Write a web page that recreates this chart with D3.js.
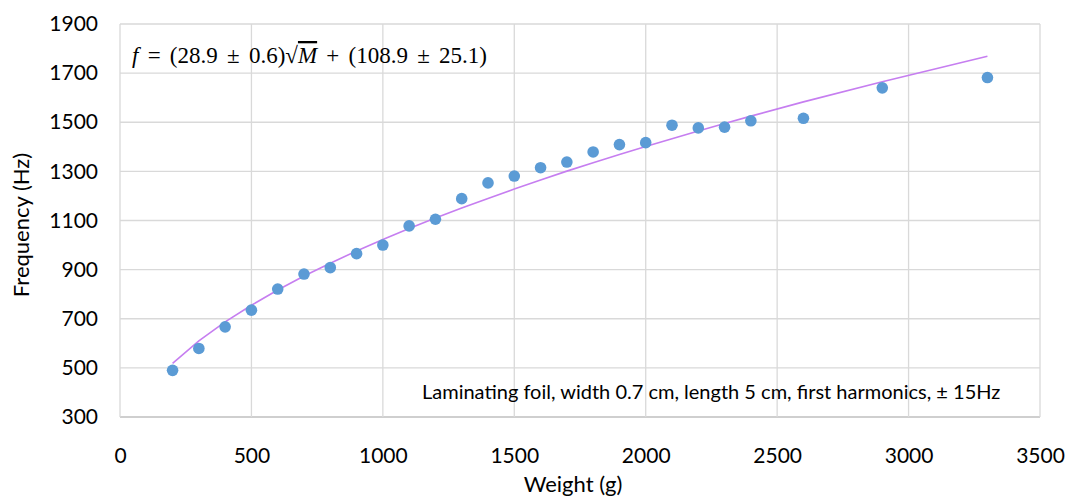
<!DOCTYPE html>
<html>
<head>
<meta charset="utf-8">
<script src="https://cdn.jsdelivr.net/npm/d3@7"></script>
<style>
  body { margin: 0; background: #fff; }
</style>
</head>
<body>
<div id="visualization"></div>
<script>
// Measured data: weight (g) and first-harmonic frequency (Hz)
const weights = [200, 300, 400, 500, 600, 700, 800, 900, 1000, 1100, 1200, 1300, 1400,
                 1500, 1600, 1700, 1800, 1900, 2000, 2100, 2200, 2300, 2400, 2600, 2900, 3300];
const frequencies = [490, 579, 667, 735, 821, 882, 908, 965, 1000, 1078, 1105, 1189, 1253,
                     1281, 1315, 1338, 1379, 1409, 1417, 1488, 1477, 1480, 1506, 1516, 1640, 1682];
// Fitted curve
const fitValues = [518, 610, 687, 755, 817, 874, 926, 976, 1023, 1067, 1110, 1151, 1190,
                   1228, 1265, 1301, 1335, 1369, 1401, 1433, 1464, 1495, 1525, 1583, 1665, 1769];
const xTicks = [0, 500, 1000, 1500, 2000, 2500, 3000, 3500];
const yTicks = [300, 500, 700, 900, 1100, 1300, 1500, 1700, 1900];

const margin = {top: 24, right: 29, bottom: 82, left: 120};
const width = 1069 - margin.left - margin.right;
const height = 499 - margin.top - margin.bottom;
const sans = 'Lato, "Open Sans", sans-serif';

const x = d3.scaleLinear().domain([0, 3500]).range([0, width]);
const y = d3.scaleLinear().domain([300, 1900]).range([height, 0]);

const svg = d3.select('#visualization')
    .append('svg')
    .attr('width', 1069)
    .attr('height', 499)
    .append('g')
    .attr('transform', `translate(${margin.left},${margin.top})`);

// Grid lines
svg.append('g')
    .selectAll('line')
    .data(yTicks)
    .join('line')
    .attr('x1', 0).attr('x2', width)
    .attr('y1', d => y(d)).attr('y2', d => y(d))
    .attr('stroke', d => d === 300 ? '#bfbfbf' : '#d9d9d9')
    .attr('stroke-width', 1.3);

svg.append('g')
    .selectAll('line')
    .data(xTicks)
    .join('line')
    .attr('x1', d => x(d)).attr('x2', d => x(d))
    .attr('y1', 0).attr('y2', height)
    .attr('stroke', '#d9d9d9')
    .attr('stroke-width', 1.3);

// Axes (labels only)
const xAxis = svg.append('g')
    .attr('transform', `translate(0,${height})`)
    .call(d3.axisBottom(x).tickValues(xTicks).tickSize(0).tickPadding(31).tickFormat(d3.format('d')));
const yAxis = svg.append('g')
    .call(d3.axisLeft(y).tickValues(yTicks).tickSize(0).tickPadding(22).tickFormat(d3.format('d')));
[xAxis, yAxis].forEach(a => {
    a.select('.domain').remove();
    a.selectAll('text').style('font-family', sans).style('font-size', '21px').attr('fill', '#000');
});

// Fitted curve
const fitLine = d3.line()
    .x((d, i) => x(weights[i]))
    .y(d => y(d));
svg.append('path')
    .datum(fitValues)
    .attr('fill', 'none')
    .attr('stroke', '#c67ef0')
    .attr('stroke-width', 1.6)
    .attr('d', fitLine);

// Data points
svg.append('g')
    .selectAll('circle')
    .data(weights)
    .join('circle')
    .attr('cx', d => x(d))
    .attr('cy', (d, i) => y(frequencies[i]))
    .attr('r', 5.8)
    .attr('fill', '#5b9bd5');

// Fit equation
const eq = svg.append('text')
    .attr('x', 12)
    .attr('y', 39)
    .style('font-family', '"Liberation Serif", "DejaVu Serif", serif')
    .style('font-size', '23px')
    .style('word-spacing', '3.5px');
eq.append('tspan').style('font-style', 'italic').text('f');
eq.append('tspan').text(' = (28.9 ± 0.6)√');
eq.append('tspan').style('font-style', 'italic').style('text-decoration', 'overline').text('M');
eq.append('tspan').text(' + (108.9 ± 25.1)');

// Note
svg.append('text')
    .attr('x', 302)
    .attr('y', 375)
    .style('font-family', sans)
    .style('font-size', '20px')
    .text('Laminating foil, width 0.7 cm, length 5 cm, first harmonics, ± 15Hz');

// Axis titles
svg.append('text')
    .attr('x', width / 2 - 7)
    .attr('y', height + 75)
    .attr('text-anchor', 'middle')
    .style('font-family', sans)
    .style('font-size', '22px')
    .text('Weight (g)');

svg.append('text')
    .attr('transform', `translate(${-91.5},${201}) rotate(-90)`)
    .attr('text-anchor', 'middle')
    .style('font-family', sans)
    .style('font-size', '22px')
    .text('Frequency (Hz)');
</script>
</body>
</html>
